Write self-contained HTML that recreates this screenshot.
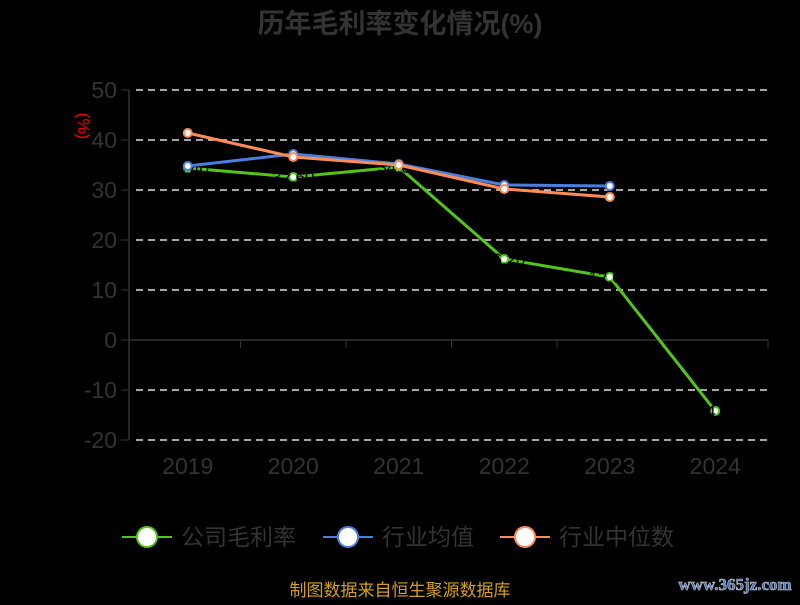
<!DOCTYPE html>
<html><head><meta charset="utf-8"><style>
body{margin:0;background:#000;width:800px;height:600px;overflow:hidden;font-family:"Liberation Sans","Noto Sans CJK SC",sans-serif}
</style></head><body>
<svg id="c" width="800" height="600" xmlns="http://www.w3.org/2000/svg">
<text x="400" y="33" text-anchor="middle" font-size="27" font-weight="bold" fill="#333" font-family="Liberation Sans,Noto Sans CJK SC,sans-serif">历年毛利率变化情况(%)</text>
<text x="0" y="0" transform="translate(78,126) rotate(90)" text-anchor="middle" font-size="17" fill="#f00" font-family="Liberation Sans,Noto Sans CJK SC,sans-serif">(%)</text>
<g id="grid"></g><g id="axes"></g><g id="series"></g>
<g id="legend"></g>
<text x="400" y="596" text-anchor="middle" font-size="17" fill="#d4a017" font-family="Liberation Sans,Noto Sans CJK SC,sans-serif">制图数据来自恒生聚源数据库</text>
<text x="735" y="590" text-anchor="middle" font-size="17" font-weight="bold" fill="#3a6fc0" stroke="#ccc" stroke-width="0.6" font-family="Liberation Serif,serif">www.365jz.com</text>
</svg>
<script>
const categories=["2019","2020","2021","2022","2023","2024"];
const yTicks=[50,40,30,20,10,0,-10,-20];
const seriesNames=["公司毛利率","行业均值","行业中位数"];
const companyVals=[34.4,32.6,34.6,16.2,12.6,-14.2];
const avgVals=[34.8,37.2,35.2,31.0,30.8,null];
const medVals=[41.4,36.6,35.0,30.2,28.6,null];
const colors=["#52c41a","#4a7fe0","#ff8c55"];
const NS="http://www.w3.org/2000/svg";
const x0=135,x1=768,yTop=90,yBot=440,vMax=50,vMin=-20;
const bw=(x1-x0)/categories.length;
const X=i=>x0+bw*(i+0.5);
const Y=v=>yTop+(vMax-v)/(vMax-vMin)*(yBot-yTop);
function mk(t,a,p){const e=document.createElementNS(NS,t);for(const k in a)e.setAttribute(k,a[k]);p.appendChild(e);return e;}
const grid=document.getElementById('grid'),axes=document.getElementById('axes'),ser=document.getElementById('series'),leg=document.getElementById('legend');
yTicks.forEach(v=>{
 if(v!==0){const l=mk('line',{x1:136,x2:x1,y1:Y(v),y2:Y(v),stroke:'#ddd','stroke-width':1.5,'stroke-dasharray':'7,5'},grid);
 }
 const tk=mk('line',{x1:121,x2:129,y1:Y(v),y2:Y(v),stroke:'#333'},axes);
 
 const t=mk('text',{x:117,y:Y(v)+8,'text-anchor':'end','font-size':23,fill:'#333'},axes);t.textContent=v;
 
});
const ya=mk('line',{x1:129,x2:129,y1:Y(vMax),y2:Y(vMin),stroke:'#333','stroke-width':1.5},axes);

const xa=mk('line',{x1:129,x2:x1,y1:Y(0),y2:Y(0),stroke:'#333','stroke-width':1.5},axes);

categories.forEach((c,i)=>{
 const tk=mk('line',{x1:x0+bw*(i+1),x2:x0+bw*(i+1),y1:Y(0),y2:Y(0)+8,stroke:'#333'},axes);
 
 const t=mk('text',{x:X(i),y:474,'text-anchor':'middle','font-size':23,fill:'#333'},axes);t.textContent=c;
 
});
[companyVals,avgVals,medVals].forEach((vals,s)=>{
 const g=mk('g',{},ser);
 
 
 let d='';vals.forEach((v,i)=>{if(v!==null)d+=(d?'L':'M')+X(i)+','+Y(v);});
 const p=mk('path',{d:d,fill:'none',stroke:colors[s],'stroke-width':3},g);
 
 vals.forEach((v,i)=>{if(v===null)return;
  const c=mk('circle',{cx:X(i),cy:Y(v),r:4,fill:'#fff',stroke:colors[s],'stroke-width':2},g);
  
  if(s===0){const t=mk('text',{x:X(i),y:Y(v)+6,'text-anchor':'middle','font-size':17,fill:'#000'},g);t.textContent=v.toFixed(2);
   }
 });
});
const lx=[122,323,500];
seriesNames.forEach((n,s)=>{
 const g=mk('g',{},leg);
 
 mk('line',{x1:lx[s],x2:lx[s]+50,y1:537,y2:537,stroke:colors[s],'stroke-width':2},g);
 mk('circle',{cx:lx[s]+25,cy:537,r:10,fill:'#fff',stroke:colors[s],'stroke-width':2},g);
 const t=mk('text',{x:lx[s]+59,y:545,'font-size':23,fill:'#333'},g);t.textContent=n;
});
</script>
</body></html>
